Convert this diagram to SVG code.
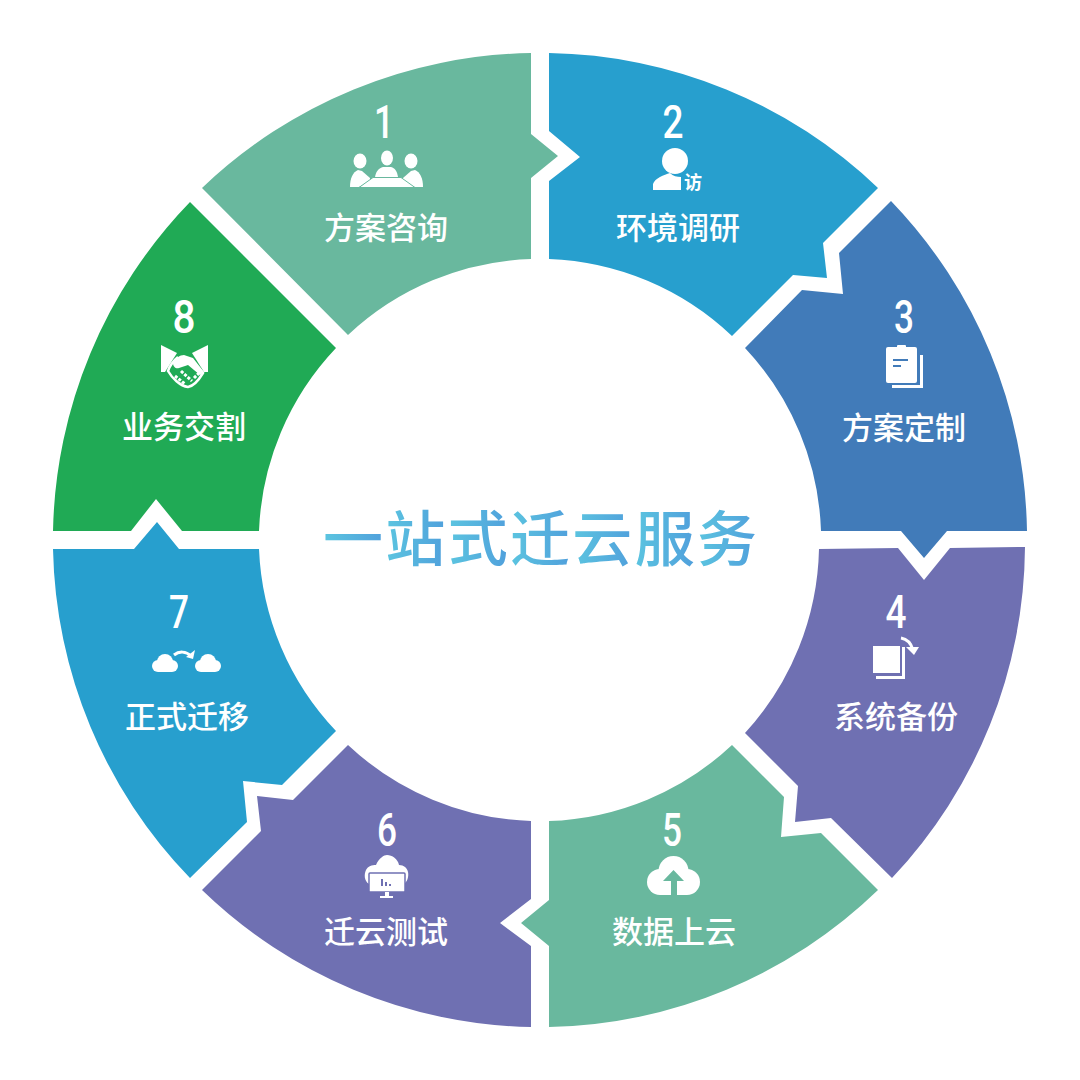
<svg xmlns="http://www.w3.org/2000/svg" width="1080" height="1080" viewBox="0 0 1080 1080">
<defs>
<linearGradient id="tg" gradientUnits="userSpaceOnUse" x1="322" y1="0" x2="384" y2="0" spreadMethod="repeat"><stop offset="0" stop-color="#5cc6e0"/><stop offset="1" stop-color="#50a0dc"/></linearGradient>
</defs>
<style>
.lb{font-family:"Noto Sans CJK SC","Noto Sans",sans-serif;font-size:31px;font-weight:500;fill:#fff;text-anchor:middle}
.n{font-family:Roboto,"Liberation Sans",sans-serif;font-size:46px;font-weight:500;fill:#fff;text-anchor:middle}
.i{fill:#fff}
.ti{font-family:"Noto Sans CJK SC",sans-serif;font-size:60px;font-weight:500;fill:url(#tg);text-anchor:middle}
</style>
<rect width="1080" height="1080" fill="#fff"/>
<g id="connectors"></g>
<g id="node-1">
<path fill="#69b89e" d="M531,53A487,487 0 0 0 202,188L348,335A281,281 0 0 1 531,259V178L558,156L531,134Z"/>
<text class="n" x="384" y="138" textLength="20" lengthAdjust="spacingAndGlyphs">1</text>
<g class="i">
<ellipse cx="360" cy="161" rx="6.500" ry="7.500"/><ellipse cx="387" cy="158" rx="6" ry="7.500"/><ellipse cx="411" cy="161" rx="6.500" ry="7.500"/>
<path d="M350,187C350,178 353,172 358,170L362,171L370,178V181L359,187Z"/>
<path d="M375,177C376,171 379,168 383,167H391C395,168 397,171 398,177Z"/>
<path d="M423,187C423,178 420,172 415,170L411,171L403,178V181L414,187Z"/>
</g>
<path d="M359,187.500L373,177.500H401L415,187.500Z" fill="#fff" stroke="#69b89e" stroke-width="1"/>
<text class="lb" x="386" y="239">方案咨询</text>
</g>
<g id="node-2">
<path fill="#279fce" d="M549,53A487,487 0 0 1 878,188L823,243L827,278L793,275L732,336A281,281 0 0 0 549,259V181L580,157L549,131Z"/>
<text class="n" x="673" y="138" textLength="21" lengthAdjust="spacingAndGlyphs">2</text>
<g class="i">
<circle cx="675" cy="161" r="13"/>
<path d="M653,190V184C655,178 664,175 670,173C673,176 677,177 681,177V190Z"/>
</g>
<text x="693" y="189" font-family="'Noto Sans CJK SC',sans-serif" font-size="18" font-weight="700" fill="#fff" text-anchor="middle">访</text>
<text class="lb" x="678" y="239">环境调研</text>
</g>
<g id="node-3">
<path fill="#417bb9" d="M891,201A487,487 0 0 1 1027,531H947L924,558L901,531H821A281,281 0 0 0 745,348L802,290L843,294L839,253Z"/>
<text class="n" x="904" y="333" textLength="20" lengthAdjust="spacingAndGlyphs">3</text>
<g class="i">
<rect x="886" y="347" width="31" height="36" rx="2"/><rect x="897" y="345" width="9" height="4" rx="1"/>
<path d="M920,355H923V388H892V385H920Z"/>
</g>
<rect x="893" y="359" width="15" height="2" fill="#417bb9"/><rect x="893" y="365" width="8" height="2" fill="#417bb9"/>
<text class="lb" x="904" y="439">方案定制</text>
</g>
<g id="node-4">
<path fill="#6f70b2" d="M819,549L898,548L924,580L950,548L1025,547A487,487 0 0 1 892,878L831,818L795,822L798,786L745,733A281,281 0 0 0 819,549Z"/>
<text class="n" x="896" y="628" textLength="21" lengthAdjust="spacingAndGlyphs">4</text>
<g class="i">
<rect x="873" y="646" width="27" height="27"/>
<path d="M902,647H905V679H876V676H902Z"/>
</g>
<path d="M901,638C907,639 911,643 913,650" fill="none" stroke="#fff" stroke-width="3"/>
<path class="i" d="M906,647L919,647L914,655Z"/>
<text class="lb" x="896" y="728">系统备份</text>
</g>
<g id="node-5">
<path fill="#69b89e" d="M732,745A281,281 0 0 1 549,821V900L521,923L549,946V1027A487,487 0 0 0 878,890L821,833L781,837L784,797Z"/>
<text class="n" x="672" y="846" textLength="20" lengthAdjust="spacingAndGlyphs">5</text>
<g class="i">
<circle cx="673.500" cy="871" r="15"/><circle cx="660" cy="882" r="13"/><circle cx="687" cy="882" r="13"/><rect x="660" y="875" width="27" height="20"/>
</g>
<path fill="#69b89e" d="M673.500,870L684,881H677V895H671V881H663Z"/>
<text class="lb" x="674" y="943">数据上云</text>
</g>
<g id="node-6">
<path fill="#6f70b2" d="M531,821A281,281 0 0 1 348,745L293,800L257,796L261,831L202,890A487,487 0 0 0 531,1027V946L500,923L531,899Z"/>
<text class="n" x="387" y="846" textLength="20" lengthAdjust="spacingAndGlyphs">6</text>
<g class="i">
<path d="M369,884C364,881 364,874 366,870C368,866 372,865 376,865C379,858 384,855 387,855C392,855 398,859 399,865C404,865 407,868 408,872C409,877 407,882 404,884Z"/>
</g>
<rect x="369" y="873" width="36" height="19" rx="1" fill="#fff" stroke="#6f70b2" stroke-width="1.500"/>
<rect x="385" y="892" width="4" height="4" fill="#fff"/><rect x="380" y="896" width="13" height="2" fill="#fff"/>
<rect x="381" y="879" width="2" height="7" fill="#6f70b2"/><rect x="385" y="882" width="2" height="4" fill="#6f70b2"/><rect x="389" y="884" width="2" height="2" fill="#6f70b2"/>
<text class="lb" x="386" y="943">迁云测试</text>
</g>
<g id="node-7">
<path fill="#279fce" d="M53,549H134L157,522L179,549H259A281,281 0 0 0 336,731L282,785L243,781L247,822L190,878A487,487 0 0 1 53,549Z"/>
<text class="n" x="179" y="628" textLength="20" lengthAdjust="spacingAndGlyphs" font-weight="700">7</text>
<g class="i">
<circle cx="165" cy="662" r="8"/><circle cx="158" cy="666" r="6"/><circle cx="172" cy="666" r="6"/><rect x="158" y="664" width="14" height="8"/>
<circle cx="208" cy="662" r="8"/><circle cx="201" cy="666" r="6"/><circle cx="215" cy="666" r="6"/><rect x="201" y="664" width="14" height="8"/>
<path d="M195,650L193,659L186,657Z"/>
</g>
<path d="M174,655C179,651 186,651 191,656" fill="none" stroke="#fff" stroke-width="3"/>
<text class="lb" x="187" y="728">正式迁移</text>
</g>
<g id="node-8">
<path fill="#20aa55" d="M53,531A487,487 0 0 1 190,202L336,348A281,281 0 0 0 259,531H182L156,499L131,531Z"/>
<text class="n" x="184" y="333" textLength="23" lengthAdjust="spacingAndGlyphs">8</text>
<g class="i">
<path d="M161,345L177,353L165,372H161Z"/><path d="M208,345V372H204L192,353Z"/>
</g>
<path d="M178,357C172,362 169,368 168,371C172,378 180,386 188,387C194,386 200,378 203,373L191,360" fill="none" stroke="#fff" stroke-width="2.500"/>
<path class="i" d="M173,363C175,358 180,355 184,355L193,358L204,372L200,375L188,365L179,368C176,369 173,367 173,363Z"/>
<path d="M175,376L185,384M181,371L192,381M194,378L199,373" fill="none" stroke="#fff" stroke-width="3" stroke-dasharray="3 1.500"/>
<text class="lb" x="184" y="438">业务交割</text>
</g>
<g id="title">
<text class="ti" x="540" y="561" textLength="434" lengthAdjust="spacing">一站式迁云服务</text>
</g>
</svg>
